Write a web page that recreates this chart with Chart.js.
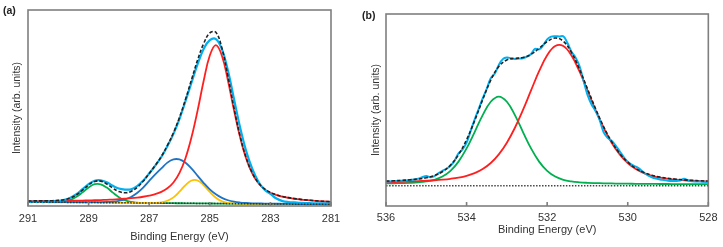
<!DOCTYPE html>
<html><head><meta charset="utf-8">
<script src="https://cdn.jsdelivr.net/npm/chart.js@4.4.0/dist/chart.umd.min.js"></script>
<style>
html,body{margin:0;padding:0;background:#fff;}
body{width:723px;height:247px;position:relative;overflow:hidden;font-family:"Liberation Sans",Arial,sans-serif;}
.panel{position:absolute;top:0;}
.lab{position:absolute;font-weight:bold;font-size:10.5px;line-height:12px;color:#222;}
</style></head><body>
<div class="panel" style="left:0;width:360px;height:247px"><canvas id="ca" width="360" height="247"></canvas></div>
<div class="panel" style="left:360px;width:363px;height:247px"><canvas id="cb" width="363" height="247"></canvas></div>
<div class="lab" style="left:3px;top:4px">(a)</div>
<div class="lab" style="left:362px;top:9px">(b)</div>
<script>
// ---------- Panel (a): C 1s ----------
const energyA = [291.0,290.8,290.6,290.4,290.2,290.0,289.8,289.6,289.4,289.2,289.0,288.8,288.6,288.4,288.2,288.0,287.8,287.6,287.4,287.2,287.0,286.8,286.6,286.4,286.2,286.0,285.8,285.6,285.4,285.2,285.0,284.8,284.6,284.4,284.2,284.0,283.8,283.6,283.4,283.2,283.0,282.8,282.6,282.4,282.2,282.0,281.8,281.6,281.4,281.2,281.0];
const dataA = [2.1,2.2,2.1,2.3,2.4,2.6,3.1,4.2,6.0,8.6,11.2,12.9,13.1,12.1,10.3,8.9,8.4,8.5,10.1,12.9,16.6,20.6,25.0,30.5,36.8,44.5,53.6,63.2,72.5,80.2,84.6,85.2,80.0,69.0,54.5,40.0,28.0,19.0,12.5,8.4,6.2,3.8,2.5,2.0,1.8,1.6,1.5,1.4,1.4,1.3,1.3];
const envelopeA = [2.58,2.59,2.61,2.64,2.70,2.85,3.23,4.10,5.72,8.12,10.72,12.53,12.69,11.25,9.09,7.35,6.73,7.45,9.48,12.62,16.58,20.75,25.26,30.90,37.38,45.18,54.45,64.60,74.66,83.0,88.3,88.6,80.5,66.02,49.89,35.69,24.64,16.89,11.91,8.81,6.92,5.71,4.88,4.26,3.77,3.39,3.08,2.79,2.56,2.36,2.19];
const redA = [2.51,2.52,2.53,2.55,2.57,2.60,2.63,2.67,2.72,2.78,2.85,2.94,3.04,3.16,3.30,3.48,3.71,3.97,4.30,4.72,5.28,6.05,7.19,9.02,12.0,16.9,24.5,35.3,48.9,64.0,76.8,82.1,76.7,63.9,48.8,35.1,24.2,16.6,11.7,8.63,6.76,5.57,4.75,4.15,3.67,3.30,2.99,2.71,2.49,2.29,2.13];
const blueA = [2.07,2.05,2.03,2.02,1.99,1.98,1.97,1.96,1.95,1.94,1.94,1.96,1.99,2.09,2.27,2.65,3.34,4.6,6.6,9.4,12.8,16.1,19.15,22.12,23.79,23.77,22.05,19.03,15.39,11.72,8.50,5.96,4.13,2.93,2.19,1.77,1.54,1.39,1.31,1.24,1.20,1.16,1.12,1.08,1.04,1.01,0.99,0.95,0.92,0.89,0.86];
const yellowA = [2.0,1.98,1.95,1.93,1.9,1.88,1.86,1.83,1.81,1.78,1.76,1.74,1.71,1.69,1.66,1.64,1.62,1.59,1.57,1.54,1.54,1.6,1.86,2.66,4.41,7.31,10.68,13.02,13.0,10.6,7.19,4.25,2.44,1.6,1.28,1.18,1.14,1.11,1.09,1.06,1.04,1.02,0.99,0.97,0.94,0.92,0.9,0.87,0.85,0.82,0.8];
const greenA = [2.0,1.98,1.95,1.93,1.94,2.03,2.34,3.13,4.67,6.96,9.45,11.11,11.08,9.38,6.84,4.50,2.92,2.07,1.72,1.58,1.52,1.50,1.47,1.45,1.42,1.4,1.38,1.35,1.33,1.3,1.28,1.26,1.23,1.21,1.18,1.16,1.14,1.11,1.09,1.06,1.04,1.02,0.99,0.97,0.94,0.92,0.9,0.87,0.85,0.82,0.8];
const baseEnergyA = [291, 281];
const baselineA = [2.0, 0.8];
const ticksA = {min: 281, max: 291, step: 2};

// ---------- Panel (b): O 1s ----------
const energyB = [536.0,535.8,535.6,535.4,535.2,535.0,534.8,534.6,534.4,534.2,534.0,533.8,533.6,533.4,533.2,533.0,532.8,532.6,532.4,532.2,532.0,531.8,531.6,531.4,531.2,531.0,530.8,530.6,530.4,530.2,530.0,529.8,529.6,529.4,529.2,529.0,528.8,528.6,528.4,528.2,528.0];
const envelopeB = [12.93,13.12,13.36,13.66,14.08,14.74,15.86,17.86,21.28,26.72,34.51,44.43,55.38,65.49,72.70,76.08,76.89,77.33,78.97,82.12,85.63,87.48,85.81,80.11,71.33,61.07,50.76,41.38,33.53,27.37,22.82,19.62,17.46,16.03,15.07,14.43,13.97,13.62,13.35,13.13,12.94];
const redB = [12.39,12.50,12.63,12.78,12.95,13.16,13.41,13.74,14.18,14.80,15.73,17.13,19.25,22.40,26.90,32.99,40.76,50.03,60.19,70.20,78.53,83.36,83.36,78.53,70.20,60.19,50.03,40.76,32.99,26.90,22.40,19.25,17.13,15.73,14.80,14.18,13.74,13.41,13.16,12.95,12.78];
const greenB = [11.74,11.82,11.93,12.08,12.33,12.78,13.65,15.32,18.30,23.12,29.98,38.50,47.33,54.29,57.0,54.29,47.33,38.50,29.98,23.12,18.30,15.32,13.65,12.78,12.33,12.08,11.93,11.82,11.74,11.67,11.62,11.57,11.53,11.50,11.47,11.45,11.43,11.41,11.39,11.38,11.36];
const dataEnergyB = [536.0,535.9,535.8,535.7,535.6,535.5,535.4,535.3,535.2,535.1,535.0,534.9,534.8,534.7,534.6,534.5,534.4,534.3,534.2,534.1,534.0,533.9,533.8,533.7,533.6,533.5,533.4,533.3,533.2,533.1,533.0,532.9,532.8,532.7,532.6,532.5,532.4,532.3,532.2,532.1,532.0,531.9,531.8,531.7,531.6,531.5,531.4,531.3,531.2,531.1,531.0,530.9,530.8,530.7,530.6,530.5,530.4,530.3,530.2,530.1,530.0,529.9,529.8,529.7,529.6,529.5,529.4,529.3,529.2,529.1,529.0,528.9,528.8,528.7,528.6,528.5,528.4,528.3,528.2,528.1,528.0];
const dataB = [12.6,12.8,13.0,13.0,13.2,13.3,13.5,13.8,14.2,15.0,15.6,15.0,15.6,17.0,18.3,19.4,21.0,23.5,27.5,29.5,33.0,39.0,45.0,50.5,56.0,61.0,66.5,69.0,73.5,76.5,77.3,77.0,76.6,76.8,77.0,77.8,79.2,81.8,81.6,83.6,86.8,88.2,88.4,88.3,88.4,85.0,80.5,77.5,73.0,65.5,58.0,53.0,49.5,45.0,38.5,35.5,34.0,31.5,28.5,25.5,23.0,21.5,20.5,19.3,17.3,16.0,15.0,14.3,13.8,13.6,13.2,13.0,13.0,13.3,14.2,13.3,12.9,12.8,12.7,12.6,12.5];
const baseEnergyB = [536, 528];
const baselineB = [10.6, 10.6];
const ticksB = {min: 528, max: 536, step: 2};

const FONT = '"Liberation Sans", Arial, sans-serif';
const TXT = '#333';

function series(xs, ys, color, width, dash) {
  return {
    data: xs.map((x, i) => ({x: x, y: ys[i]})),
    borderColor: color, borderWidth: width, borderDash: dash || [],
    pointRadius: 0, tension: 0.4, fill: false
  };
}

const framePlugin = {
  id: 'frame',
  afterDraw(chart) {
    const ctx = chart.ctx, a = chart.chartArea, xs = chart.scales.x;
    ctx.save();
    ctx.strokeStyle = '#7f7f7f';
    ctx.lineWidth = 1.6;
    ctx.strokeRect(a.left, a.top, a.right - a.left, a.bottom - a.top);
    ctx.beginPath();
    xs.ticks.forEach(t => {
      const p = xs.getPixelForValue(t.value);
      ctx.moveTo(p, a.bottom);
      ctx.lineTo(p, a.bottom - 4);
    });
    ctx.stroke();
    ctx.restore();
  }
};

function makeChart(id, datasets, tk, o) {
  return new Chart(document.getElementById(id), {
    type: 'line',
    data: {datasets: datasets},
    options: {
      responsive: false, animation: false, devicePixelRatio: 1,
      layout: {padding: {top: o.top, right: o.right, left: 0, bottom: 0}},
      plugins: {legend: {display: false}, tooltip: {enabled: false}},
      scales: {
        x: {
          type: 'linear', reverse: true, min: tk.min, max: tk.max,
          ticks: {stepSize: tk.step, padding: o.tickPad, color: TXT, font: {size: 11, family: FONT}, maxRotation: 0, autoSkip: false},
          grid: {display: false, drawTicks: false}, border: {display: false},
          title: {display: true, text: 'Binding Energy (eV)', color: TXT, font: {size: 11, family: FONT}, padding: {top: 0, bottom: o.xTitlePad}},
          afterFit: s => { s.height = o.xh; }
        },
        y: {
          min: 0, max: 100,
          ticks: {display: false},
          grid: {display: false, drawTicks: false}, border: {display: false},
          title: {display: true, text: 'Intensity (arb. units)', color: TXT, font: {size: 10.5, family: FONT}, padding: {top: o.yTitlePad, bottom: 0}},
          afterFit: s => { s.width = o.yw; }
        }
      }
    },
    plugins: [framePlugin]
  });
}

makeChart('ca', [
  series(baseEnergyA, baselineA, '#2b3a2b', 1.5, [1.5, 1.5]),
  series(energyA, envelopeA, '#222222', 1.6, [3.5, 2]),
  series(energyA, dataA, '#00b0f0', 2.2),
  series(energyA, redA, '#ff1f1f', 1.8),
  series(energyA, blueA, '#1f73c4', 1.8),
  series(energyA, yellowA, '#ffc000', 1.8),
  series(energyA, greenA, '#00b050', 1.8)
], ticksA, {top: 10, right: 29, yw: 28, xh: 41, tickPad: 6, xTitlePad: 3.4, yTitlePad: 11});

makeChart('cb', [
  series(baseEnergyB, baselineB, '#444444', 1.5, [1.5, 1.5]),
  series(energyB, envelopeB, '#222222', 1.6, [3.5, 2]),
  series(dataEnergyB, dataB, '#00b0f0', 2.0),
  series(energyB, redB, '#ff1f1f', 1.8),
  series(energyB, greenB, '#00b050', 1.8)
], ticksB, {top: 14, right: 13, yw: 26, xh: 41, tickPad: 5.5, xTitlePad: 10, yTitlePad: 10});
</script>
</body></html>
